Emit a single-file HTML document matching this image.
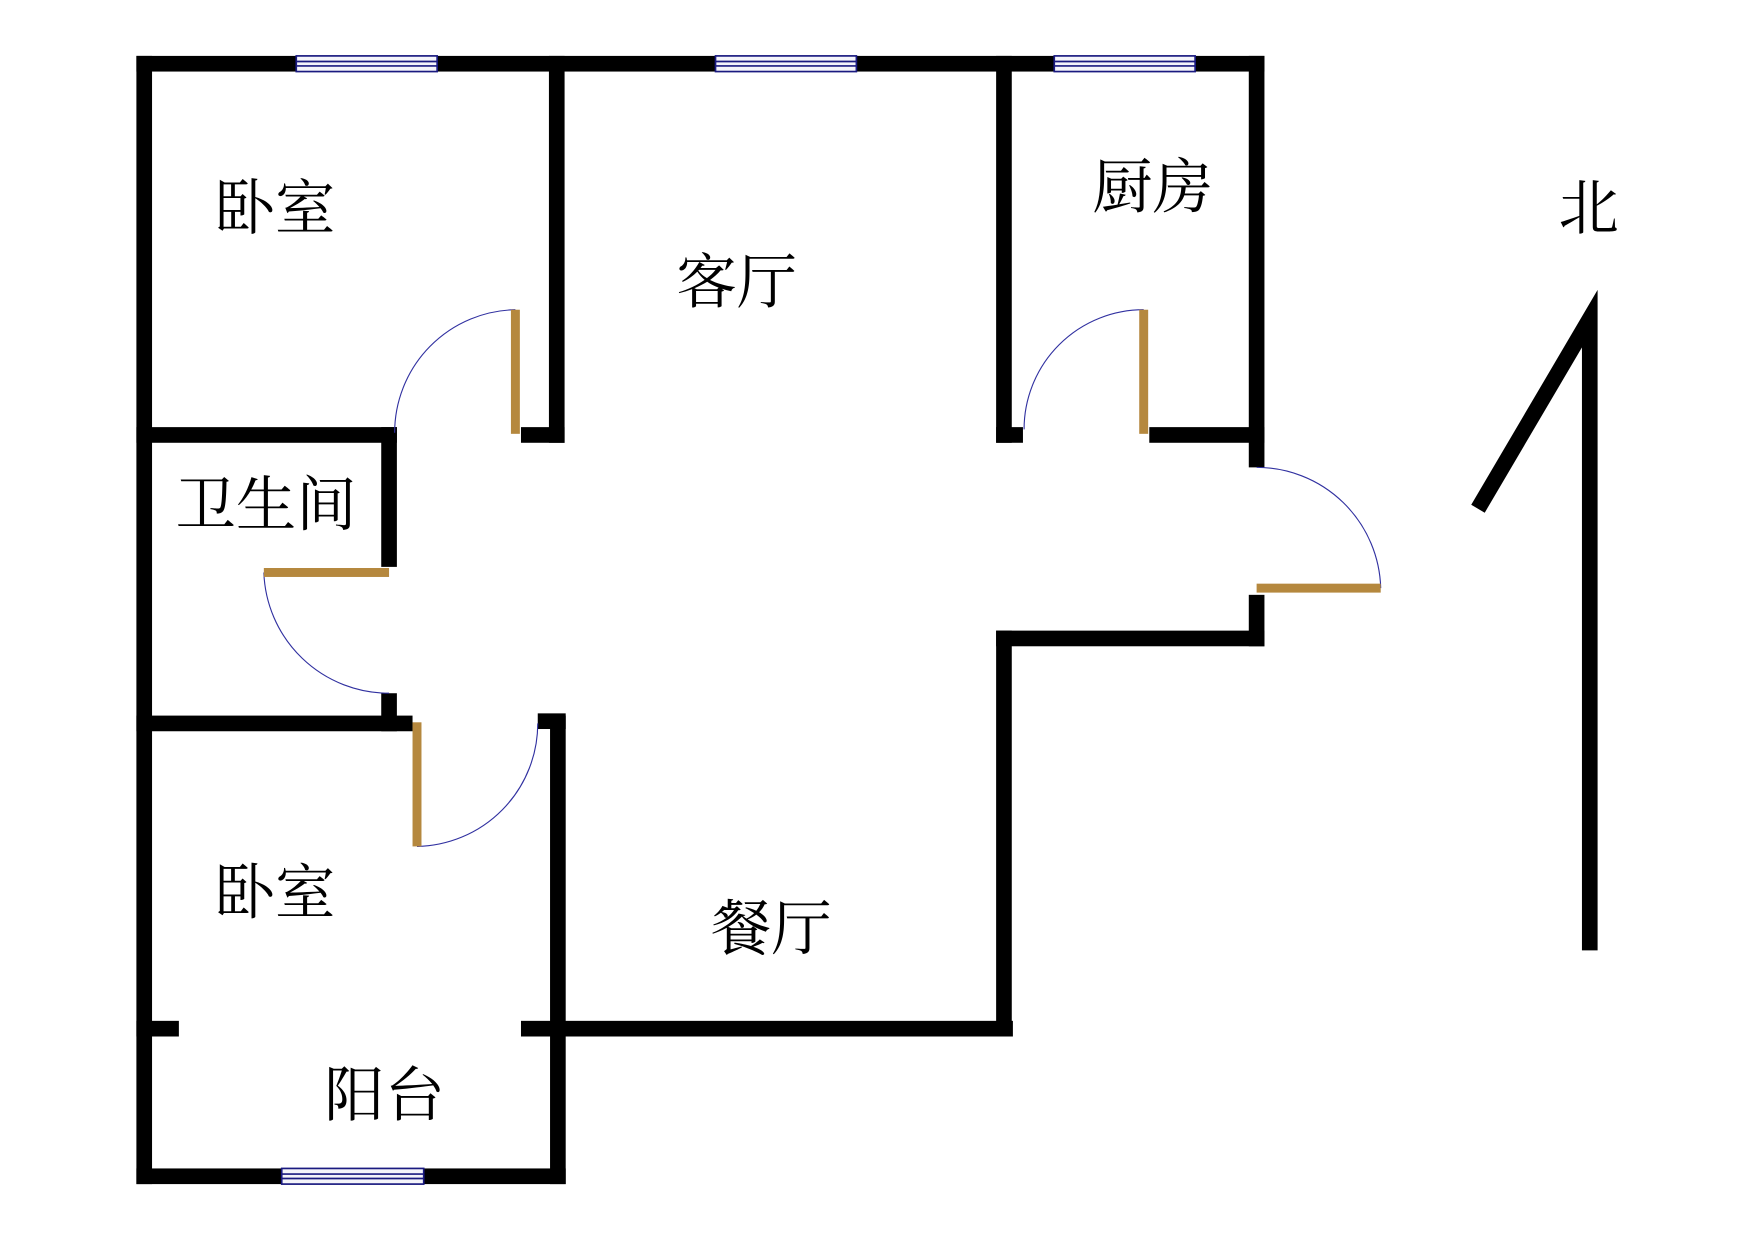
<!DOCTYPE html>
<html><head><meta charset="utf-8"><style>html,body{margin:0;padding:0;background:#fff}svg{display:block}</style></head><body>
<svg width="1753" height="1240" viewBox="0 0 1568 1109" preserveAspectRatio="none" xmlns="http://www.w3.org/2000/svg">
<rect width="1568" height="1109" fill="#fff"/>
<g fill="#000">
<rect x="122" y="50" width="1009" height="14"/>
<rect x="122" y="50" width="14" height="1009"/>
<rect x="122" y="1045" width="384" height="14"/>
<rect x="492" y="640" width="14" height="419"/>
<rect x="491" y="50" width="14" height="346"/>
<rect x="466" y="382" width="39" height="14"/>
<rect x="122" y="382" width="233" height="14"/>
<rect x="341" y="382" width="14" height="125"/>
<rect x="122" y="640" width="247" height="14"/>
<rect x="341" y="620" width="14" height="34"/>
<rect x="481" y="638" width="25" height="14"/>
<rect x="122" y="913" width="38" height="14"/>
<rect x="466" y="913" width="440" height="14"/>
<rect x="891" y="564" width="14" height="363"/>
<rect x="891" y="564" width="240" height="14"/>
<rect x="1117" y="532" width="14" height="46"/>
<rect x="891" y="50" width="14" height="346"/>
<rect x="891" y="382" width="24" height="14"/>
<rect x="1028" y="382" width="103" height="14"/>
<rect x="1117" y="50" width="14" height="368"/>
</g>
<g fill="#f4f4fa" stroke="#1a1a80" stroke-width="1.5">
<rect x="265" y="50" width="126" height="14"/><line x1="265" y1="55" x2="391" y2="55"/><line x1="265" y1="59" x2="391" y2="59"/>
<rect x="640" y="50" width="126" height="14"/><line x1="640" y1="55" x2="766" y2="55"/><line x1="640" y1="59" x2="766" y2="59"/>
<rect x="943" y="50" width="126" height="14"/><line x1="943" y1="55" x2="1069" y2="55"/><line x1="943" y1="59" x2="1069" y2="59"/>
<rect x="252" y="1045" width="127" height="14"/><line x1="252" y1="1050" x2="379" y2="1050"/><line x1="252" y1="1054" x2="379" y2="1054"/>
</g>
<g fill="none" stroke="#3030a0" stroke-width="1">
<path d="M461 277 A110 110 0 0 0 353 387"/>
<path d="M1023 277 A107 107 0 0 0 916 384"/>
<path d="M236 512 A112 112 0 0 0 348 620"/>
<path d="M373 757 A110 110 0 0 0 481 647"/>
<path d="M1124 418 A111 111 0 0 1 1235 526"/>
</g>
<g fill="#b5883e">
<rect x="457" y="277" width="8" height="111"/>
<rect x="1019" y="277" width="8" height="111"/>
<rect x="236" y="508" width="112" height="8"/>
<rect x="369" y="646" width="8" height="111"/>
<rect x="1124" y="522" width="111" height="8"/>
</g>
<polyline points="1322,455 1422,285 1422,850" fill="none" stroke="#000" stroke-width="14" stroke-linejoin="miter"/>
<g font-family="'Liberation Serif','Noto Serif CJK SC',serif" font-size="54" fill="#000">
<text x="192" y="205">卧室</text>
<text x="605" y="271">客厅</text>
<text x="977" y="186">厨房</text>
<text x="1394" y="205">北</text>
<text x="157" y="470">卫生间</text>
<text x="192" y="817">卧室</text>
<text x="636" y="849">餐厅</text>
<text x="290" y="998">阳台</text>
</g>
</svg>
</body></html>
